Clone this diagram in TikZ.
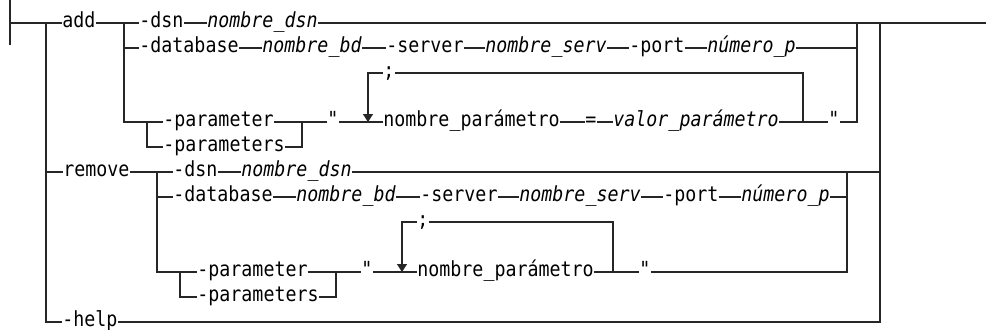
\documentclass[tikz,border=0pt]{standalone}
\usepackage{fontspec}
\setmonofont[FakeStretch=0.88]{DejaVu Sans Mono}
\usetikzlibrary{arrows.meta}

\begin{document}
\begin{tikzpicture}[
    x=0.5pt, y=-0.5pt, line join=miter,
    rail/.style={line width=0.65pt, black!85},
    kw/.style={anchor=mid west, inner sep=0pt, font=\ttfamily\fontsize{10.4}{12}\selectfont},
    var/.style={kw, font=\ttfamily\itshape\fontsize{10.4}{12}\selectfont},
    loopback/.style={rail, -{Triangle[length=4pt, width=5pt]}},
  ]
  \useasboundingbox (0,0) rectangle (986,329);

  % --- junctions of the main rail ---
  \coordinate (start) at (10,23);
  \coordinate (mainL) at (46,23);
  \coordinate (mainR) at (880,23);
  \coordinate (stop)  at (986,23);

  % --- add ---
  \node[kw]  (add)    at (62,23)  {add};
  \node[kw]  (adsn)   at (139,23) {-dsn};
  \node[var] (adsnv)  at (207,23) {nombre\_dsn};
  \node[kw]  (adb)    at (139,48) {-database};
  \node[var] (adbv)   at (262,48) {nombre\_bd};
  \node[kw]  (asrv)   at (386,48) {-server};
  \node[var] (asrvv)  at (485,48) {nombre\_serv};
  \node[kw]  (aport)  at (629,48) {-port};
  \node[var] (aportv) at (707,48) {número\_p};
  \node[kw]  (apar)   at (163,122) {-parameter};
  \node[kw]  (apars)  at (163,147) {-parameters};
  \node[kw]  (aq1)    at (327,122) {"};
  \node[kw]  (asemi)  at (383,73)  {;};
  \node[kw]  (anpar)  at (383,122) {nombre\_parámetro};
  \node[kw]  (aeq)    at (585,122) {=};
  \node[var] (aval)   at (613,122) {valor\_parámetro};
  \node[kw]  (aq2)    at (828,122) {"};
  \coordinate (addL)   at (124,23);
  \coordinate (addR)   at (857,23);
  \coordinate (aparL)  at (147,122);
  \coordinate (aparR)  at (302,122);
  \coordinate (aloopL) at (368,122);
  \coordinate (aloopR) at (803,122);

  % --- remove ---
  \node[kw]  (remove) at (63,172)  {remove};
  \node[kw]  (rdsn)   at (173,172) {-dsn};
  \node[var] (rdsnv)  at (241,172) {nombre\_dsn};
  \node[kw]  (rdb)    at (173,197) {-database};
  \node[var] (rdbv)   at (296,197) {nombre\_bd};
  \node[kw]  (rsrv)   at (420,197) {-server};
  \node[var] (rsrvv)  at (519,197) {nombre\_serv};
  \node[kw]  (rport)  at (663,197) {-port};
  \node[var] (rportv) at (741,197) {número\_p};
  \node[kw]  (rpar)   at (197,272) {-parameter};
  \node[kw]  (rpars)  at (197,297) {-parameters};
  \node[kw]  (rq1)    at (361,272) {"};
  \node[kw]  (rsemi)  at (417,222) {;};
  \node[kw]  (rnpar)  at (417,272) {nombre\_parámetro};
  \node[kw]  (rq2)    at (639,272) {"};
  \coordinate (remL)   at (157,172);
  \coordinate (remR)   at (847,172);
  \coordinate (rparL)  at (180,272);
  \coordinate (rparR)  at (336,272);
  \coordinate (rloopL) at (402,272);
  \coordinate (rloopR) at (613,272);

  % --- help ---
  \node[kw]  (help)   at (62,322) {-help};

  % --- main rail ---
  \draw[rail] ([yshift=-11]start) -- ([yshift=12]start);
  \draw[rail] (start) -- (add.mid west);
  \draw[rail] (adsnv.mid east) -- (stop);
  \draw[rail] (mainL) |- (remove.mid west);
  \draw[rail] (mainL) |- (help.mid west);
  \draw[rail] (help.mid east) -| (mainR);
  \draw[rail] (rdsnv.mid east) -- (rdsnv.mid east -| mainR);

  % --- straight runs between items ---
  \foreach \a/\b in {add/adsn, adsn/adsnv, adb/adbv, adbv/asrv, asrv/asrvv,
      asrvv/aport, aport/aportv, aq1/anpar, anpar/aeq, aeq/aval, aval/aq2,
      remove/rdsn, rdsn/rdsnv, rdb/rdbv, rdbv/rsrv, rsrv/rsrvv, rsrvv/rport,
      rport/rportv, rq1/rnpar, rnpar/rq2}
    \draw[rail] (\a.mid east) -- (\b.mid west);

  % --- add: branches and loop ---
  \draw[rail] (addL) |- (adb.mid west);
  \draw[rail] (addL) |- (aparL);
  \draw[rail] (aparL) -- (apar.mid west);
  \draw[rail] (aparL) |- (apars.mid west);
  \draw[rail] (apar.mid east) -- (aq1.mid west);
  \draw[rail] (apars.mid east) -| (aparR);
  \draw[rail] (aloopR) |- (asemi.mid east);
  \draw[loopback] (asemi.mid west) -| (aloopL);
  \draw[rail] (aportv.mid east) -- (aportv.mid east -| addR);
  \draw[rail] (aq2.mid east) -| (addR);

  % --- remove: branches and loop ---
  \draw[rail] (remL) |- (rdb.mid west);
  \draw[rail] (remL) |- (rparL);
  \draw[rail] (rparL) -- (rpar.mid west);
  \draw[rail] (rparL) |- (rpars.mid west);
  \draw[rail] (rpar.mid east) -- (rq1.mid west);
  \draw[rail] (rpars.mid east) -| (rparR);
  \draw[rail] (rloopR) |- (rsemi.mid east);
  \draw[loopback] (rsemi.mid west) -| (rloopL);
  \draw[rail] (rportv.mid east) -- (rportv.mid east -| remR);
  \draw[rail] (rq2.mid east) -| (remR);
\end{tikzpicture}
\end{document}
